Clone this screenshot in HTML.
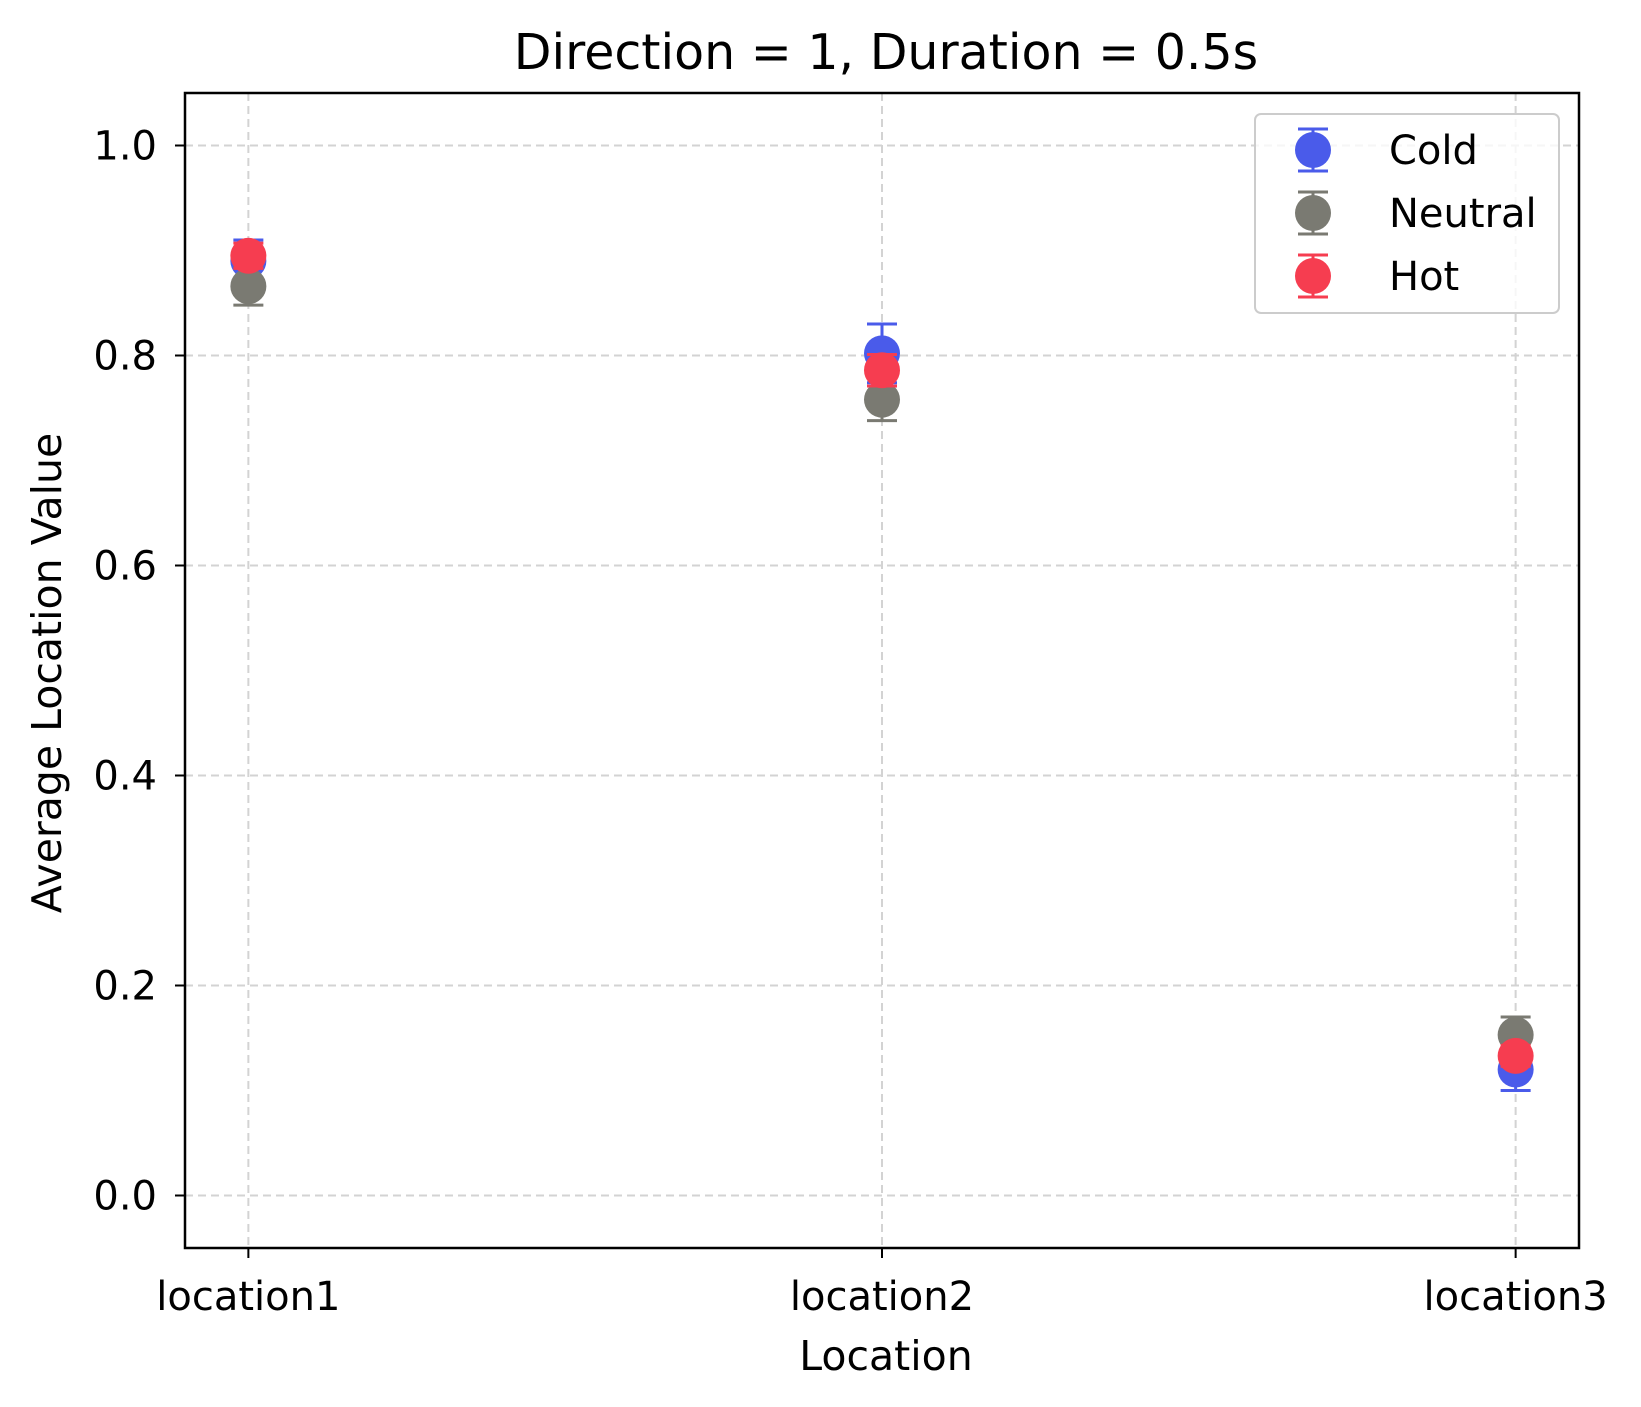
<!DOCTYPE html>
<html><head><meta charset="utf-8"><style>body{margin:0;background:#fff}svg{display:block;font-family:"DejaVu Sans","Liberation Sans",sans-serif}</style></head>
<body>
<svg id="chart" width="1641" height="1407" viewBox="0 0 1641 1407">
<text x="886" y="69" font-size="49" text-anchor="middle">Direction = 1, Duration = 0.5s</text>
<g id="grid"></g><g id="marks"></g>
<rect x="185" y="93" width="1394" height="1155" fill="none" stroke="#000" stroke-width="2.5"/>
<g id="axes"></g>
<text x="886" y="1370" font-size="41" text-anchor="middle">Location</text>
<text transform="translate(61,673) rotate(-90)" font-size="41" text-anchor="middle">Average Location Value</text>
<g id="legend"></g>
</svg>
<script>
const categories=["location1","location2","location3"];
const coldVals=[0.890,0.802,0.120];
const coldErr=[0.020,0.028,0.020];
const neutralVals=[0.866,0.758,0.153];
const neutralErr=[0.018,0.020,0.017];
const hotVals=[0.895,0.786,0.133];
const hotErr=[0.012,0.015,0.010];
const yTicks=[0.0,0.2,0.4,0.6,0.8,1.0];
const seriesNames=["Cold","Neutral","Hot"];
const colors=["#4a5bea","#7a7a72","#f63d50"];
const NS="http://www.w3.org/2000/svg";
const L=185,R=1579,T=93,B=1248;
const x=i=>L+(i+0.1)/2.2*(R-L);
const y=v=>B-(v+0.05)/1.1*(B-T);
function mk(tag,at,parent){const e=document.createElementNS(NS,tag);for(const k in at)e.setAttribute(k,at[k]);document.getElementById(parent).appendChild(e);return e;}
yTicks.forEach(t=>{
 const g=mk("line",{x1:L,x2:R,y1:y(t),y2:y(t),stroke:"#d3d3d3","stroke-width":2,"stroke-dasharray":"8,5"},"grid");
 
 
 const tk=mk("line",{x1:L-10,x2:L,y1:y(t),y2:y(t),stroke:"#000","stroke-width":2},"axes");
 
 
 const tx=mk("text",{x:L-28,y:y(t)+14,"font-size":40,"text-anchor":"end"},"axes");
 tx.textContent=t.toFixed(1);
 
 
});
categories.forEach((c,i)=>{
 const g=mk("line",{x1:x(i),x2:x(i),y1:T,y2:B,stroke:"#d3d3d3","stroke-width":2,"stroke-dasharray":"8,5"},"grid");
 
 
 const tk=mk("line",{x1:x(i),x2:x(i),y1:B,y2:B+10,stroke:"#000","stroke-width":2},"axes");
 
 
 const tx=mk("text",{x:x(i),y:B+62,"font-size":40,"text-anchor":"middle"},"axes");
 tx.textContent=c;
 
 
});
const vals=[coldVals,neutralVals,hotVals],errs=[coldErr,neutralErr,hotErr];
vals.forEach((vs,s)=>{vs.forEach((v,i)=>{
 const cx=x(i),e=errs[s][i];
 const bar=mk("path",{d:`M${cx},${y(v-e)}V${y(v+e)}M${cx-15},${y(v-e)}h30M${cx-15},${y(v+e)}h30`,stroke:colors[s],"stroke-width":3,fill:"none"},"marks");
 
 
 const c=mk("circle",{cx:cx,cy:y(v),r:18,fill:colors[s]},"marks");
 
 
});});
const lb=mk("rect",{x:1255,y:114,width:304,height:199,rx:6,fill:"#fff","fill-opacity":0.8,stroke:"#ccc","stroke-width":2},"legend");


seriesNames.forEach((n,s)=>{
 const yy=150+s*63;
 const b=mk("path",{d:`M1313,${yy-21}V${yy+21}M1298,${yy-21}h30M1298,${yy+21}h30`,stroke:colors[s],"stroke-width":3},"legend");
 
 
 const c=mk("circle",{cx:1313,cy:yy,r:18,fill:colors[s]},"legend");
 
 
 const t=mk("text",{x:1389,y:yy+14,"font-size":40},"legend");
 t.textContent=n;
 
 
});
</script>
</body></html>
